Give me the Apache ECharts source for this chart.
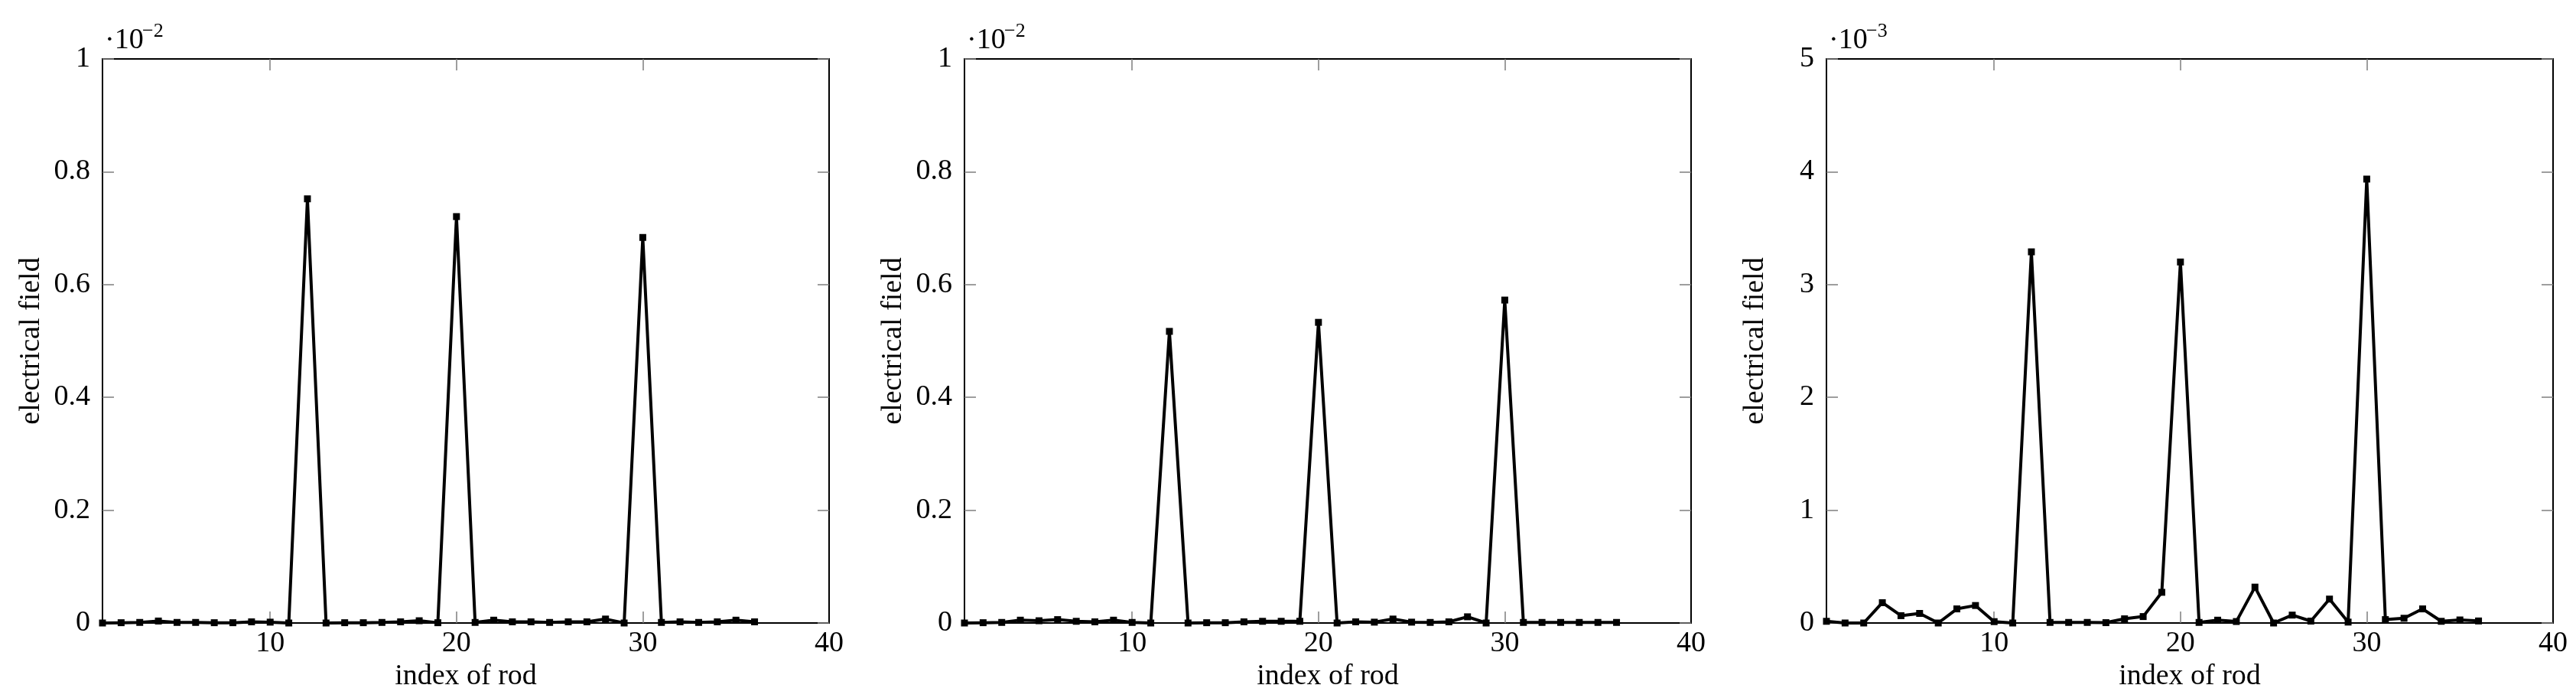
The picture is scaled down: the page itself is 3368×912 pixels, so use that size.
<!DOCTYPE html>
<html><head><meta charset="utf-8">
<script src="https://cdn.jsdelivr.net/npm/echarts@6/dist/echarts.min.js"></script>
<style>html,body{margin:0;padding:0;background:#fff}#c{width:3368px;height:912px}</style>
</head><body><div id="c"></div>
<script>
// rod indices (x)
const rodIndex = [1,2,3,4,5,6,7,8,9,10,11,12,13,14,15,16,17,18,19,20,21,22,23,24,25,26,27,28,29,30,31,32,33,34,35,36];
// panel 1 electrical field, in units of 1e-2
const fieldA = [0.000,0.0005,0.001,0.0035,0.001,0.001,0.0005,0.0005,0.002,0.0015,0.000,0.752,0.000,0.0005,0.0005,0.001,0.002,0.004,0.0005,0.7205,0.001,0.005,0.002,0.002,0.001,0.002,0.002,0.007,0.000,0.6835,0.001,0.002,0.001,0.002,0.005,0.002];
// panel 2 electrical field, in units of 1e-2
const fieldB = [0.000,0.0005,0.001,0.005,0.004,0.006,0.003,0.002,0.005,0.001,0.000,0.517,0.000,0.0005,0.0005,0.002,0.003,0.003,0.003,0.533,0.000,0.002,0.0015,0.007,0.0015,0.001,0.002,0.011,0.000,0.5725,0.001,0.001,0.001,0.001,0.001,0.001];
// panel 3 electrical field, in units of 1e-3
const fieldC = [0.015,0.000,0.000,0.18,0.065,0.085,0.000,0.125,0.155,0.012,0.000,3.29,0.005,0.005,0.005,0.003,0.037,0.057,0.272,3.20,0.005,0.025,0.013,0.318,0.000,0.07,0.017,0.212,0.008,3.935,0.03,0.042,0.125,0.015,0.027,0.018];
// axis ticks / labels
const xTickValues = [10,20,30];
const xLabelValues = [10,20,30,40];
const xRange = [1,40];
const yMaxes = [1,1,5];
const yIntervals = [0.2,0.2,1];
const exponents = ['\u22122','\u22122','\u22123'];
const xAxisTitle = 'index of rod';
const yAxisTitle = 'electrical field';

const panels = [fieldA, fieldB, fieldC];
const FONT = "'Liberation Serif', 'DejaVu Serif', serif";
const FS = 38;
const lefts = [134, 1261, 2388];
const TOP = 77, W = 950, H = 737;

const grid = [], xAxis = [], yAxis = [], series = [], graphic = [];
const tickStyle = {inside:true, length:15, lineStyle:{color:'#7f7f7f', width:1.5}};
const lineStyle = {onZero:false, lineStyle:{color:'#000', width:2}};
panels.forEach((vals, i) => {
  grid.push({left:lefts[i], top:TOP, width:W, height:H, containLabel:false});
  xAxis.push({type:'value', gridIndex:i, position:'bottom', min:xRange[0], max:xRange[1],
    axisLine:lineStyle, splitLine:{show:false},
    axisTick:Object.assign({customValues:xTickValues}, tickStyle),
    axisLabel:{customValues:xLabelValues, fontFamily:FONT, fontSize:FS, color:'#000', margin:8},
    name:xAxisTitle, nameLocation:'middle', nameGap:42,
    nameTextStyle:{fontFamily:FONT, fontSize:FS, color:'#000'}});
  xAxis.push({type:'value', gridIndex:i, position:'top', min:xRange[0], max:xRange[1],
    axisLine:lineStyle, splitLine:{show:false},
    axisTick:Object.assign({customValues:xTickValues}, tickStyle),
    axisLabel:{show:false}});
  yAxis.push({type:'value', gridIndex:i, position:'left', min:0, max:yMaxes[i], interval:yIntervals[i],
    axisLine:lineStyle, splitLine:{show:false}, axisTick:tickStyle,
    axisLabel:{fontFamily:FONT, fontSize:FS, color:'#000', margin:16},
    name:yAxisTitle, nameLocation:'middle', nameGap:74, nameRotate:90,
    nameTextStyle:{fontFamily:FONT, fontSize:FS, color:'#000'}});
  yAxis.push({type:'value', gridIndex:i, position:'right', min:0, max:yMaxes[i], interval:yIntervals[i],
    axisLine:lineStyle, splitLine:{show:false}, axisTick:tickStyle, axisLabel:{show:false}});
  series.push({type:'line', xAxisIndex:2*i, yAxisIndex:2*i,
    data: rodIndex.map((r, k) => [r, vals[k]]),
    symbol:'rect', symbolSize:9, showSymbol:true,
    lineStyle:{color:'#000', width:4}, itemStyle:{color:'#000'}, z:5});
  graphic.push({type:'text', x:lefts[i] + 3, y:72,
    style:{text:'\u00b710', fontFamily:FONT, fontSize:FS, fill:'#000', verticalAlign:'bottom'}});
  graphic.push({type:'text', x:lefts[i] + 52, y:54,
    style:{text:exponents[i], fontFamily:FONT, fontSize:26, fill:'#000', verticalAlign:'bottom'}});
});

const chart = echarts.init(document.getElementById('c'), null, {renderer:'canvas'});
chart.setOption({animation:false, backgroundColor:'#fff', grid, xAxis, yAxis, series, graphic});
</script></body></html>
